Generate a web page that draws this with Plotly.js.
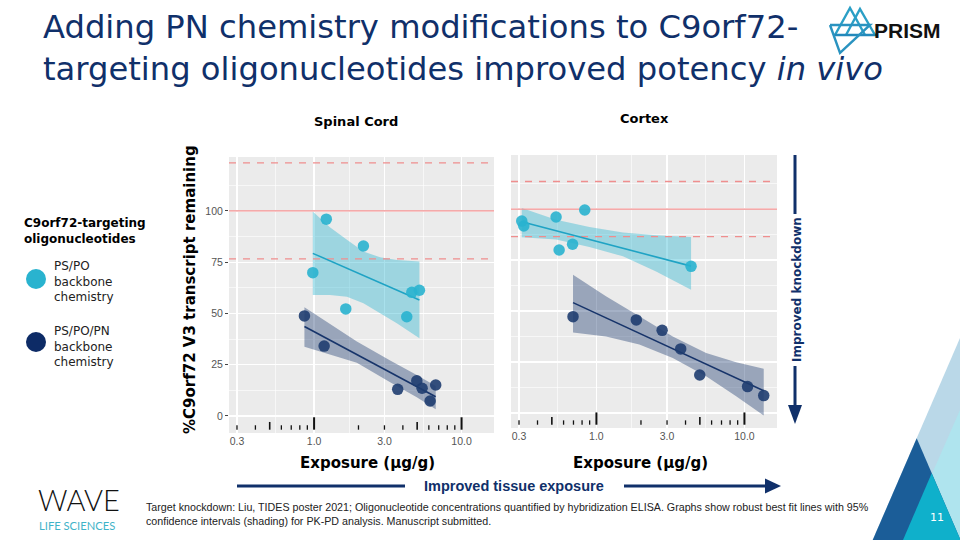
<!DOCTYPE html>
<html>
<head>
<meta charset="utf-8">
<script src="https://cdn.plot.ly/plotly-3.0.1.min.js"></script>
<style>html,body{margin:0;padding:0;background:#fff;}#chart{width:960px;height:540px;}</style>
</head>
<body>
<div id="chart"></div>
<script>
// ---------- DATA ----------
// Spinal cord, PS/PO backbone
const scPoX = [0.98, 1.21, 2.16, 1.64, 4.25, 4.6, 5.18];
const scPoY = [69.9, 96.0, 82.9, 52.2, 48.4, 60.3, 61.3];
const scPoFitX = [0.98, 5.18];
const scPoFitY = [79.3, 56.6];
const scPoBandX  = [0.98, 1.28, 1.67, 2.16, 2.80, 3.64, 5.18];
const scPoBandHi = [99.7, 92.0, 85.9, 80.2, 77.4, 76.1, 75.3];
const scPoBandLo = [59.0, 59.0, 58.2, 55.0, 50.1, 45.2, 37.9];
// Spinal cord, PS/PO/PN backbone
const scPnX = [0.86, 1.17, 3.69, 4.97, 5.4, 6.12, 6.68];
const scPnY = [48.8, 34.1, 13.0, 17.2, 13.5, 7.3, 15.1];
const scPnFitX = [0.86, 6.68];
const scPnFitY = [43.6, 9.4];
const scPnBandX  = [0.86, 1.16, 1.95, 3.28, 4.97, 6.68];
const scPnBandHi = [53.0, 46.8, 36.3, 27.0, 20.0, 14.6];
const scPnBandLo = [33.8, 31.1, 26.0, 16.4, 9.1, 3.3];
// Cortex, PS/PO backbone
const cxPoX = [0.313, 0.323, 0.534, 0.834, 0.56, 0.69, 4.36];
const cxPoY = [94.1, 91.7, 96.1, 99.5, 79.9, 82.7, 71.9];
const cxPoFitX = [0.313, 4.36];
const cxPoFitY = [93.8, 72.0];
const cxPoBandX  = [0.313, 0.534, 0.897, 1.51, 2.53, 4.36];
const cxPoBandHi = [100.5, 94.8, 91.2, 88.5, 87.1, 86.3];
const cxPoBandLo = [86.1, 85.0, 81.4, 76.8, 69.4, 60.4];
// Cortex, PS/PO/PN backbone
const cxPnX = [0.695, 1.86, 2.78, 3.71, 4.99, 10.5, 13.5];
const cxPnY = [47.2, 45.6, 40.5, 31.4, 18.6, 12.9, 8.5];
const cxPnFitX = [0.695, 13.5];
const cxPnFitY = [54.1, 10.9];
const cxPnBandX  = [0.695, 1.16, 1.95, 3.28, 5.51, 8.79, 13.5];
const cxPnBandHi = [67.8, 57.2, 47.4, 37.5, 29.4, 24.8, 21.6];
const cxPnBandLo = [39.5, 37.5, 33.5, 26.9, 18.0, 8.2, -1.3];
// Reference lines (control = 100, dashed = variability limits)
const scRefSolid = [100];
const scRefDashed = [123.4, 76.6];
const cxRefSolid = [100];
const cxRefDashed = [113.5, 86.5];
// Axis ticks
const xTickVals = [0.3, 1, 3, 10];
const xTickText = ['0.3', '1.0', '3.0', '10.0'];
const xMinorVals = [0.5477, 1.732, 5.477];
const yTickVals = [0, 25, 50, 75, 100];
const yTickText = ['0', '25', '50', '75', '100'];
const yMinorVals = [12.5, 37.5, 62.5, 87.5, 112.5];
const logTicksShort = [0.3, 0.4, 0.6, 0.7, 0.8, 0.9, 2, 3, 4, 6, 7, 8, 9];
const logTicksMid = [0.5, 5];
const logTicksLong = [1, 10];

// ---------- STYLE ----------
const W = 960, H = 540;
const X = p => p / W;
const Y = p => 1 - p / H;
const LIGHT = '#29b3cf', DARK = '#1f3d70';
const LIGHT_BAND = 'rgba(41,179,207,0.40)', DARK_BAND = 'rgba(31,61,112,0.40)';
const LIGHT_LINE = '#1fa3c4', DARK_LINE = '#17346a';
const RED = '#ef8e8e';
const NAVY = '#10306a';
const XR = [-0.577, 1.22];
const xEnds = [Math.pow(10, XR[0]), Math.pow(10, XR[1])];

function band(xs, hi, lo, color, xa, ya) {
  return {x: xs.concat(xs.slice().reverse()), y: hi.concat(lo.slice().reverse()),
    xaxis: xa, yaxis: ya, mode: 'lines', fill: 'toself', fillcolor: color,
    line: {width: 0}, hoverinfo: 'skip', showlegend: false};
}
function fit(xs, ys, color, xa, ya) {
  return {x: xs, y: ys, xaxis: xa, yaxis: ya, mode: 'lines', line: {color: color, width: 1.6}, showlegend: false};
}
function pts(xs, ys, color, xa, ya) {
  return {x: xs, y: ys, xaxis: xa, yaxis: ya, mode: 'markers', type: 'scatter',
    marker: {color: color, size: 11.5, opacity: 0.9, line: {width: 0}}, showlegend: false};
}
function refs(solid, dashed, xa, ya) {
  const out = [];
  solid.forEach(v => out.push({x: xEnds, y: [v, v], xaxis: xa, yaxis: ya, mode: 'lines',
    line: {color: RED, width: 1.3}, hoverinfo: 'skip', showlegend: false}));
  dashed.forEach(v => out.push({x: xEnds, y: [v, v], xaxis: xa, yaxis: ya, mode: 'lines',
    line: {color: RED, width: 1.3, dash: '7px,7px'}, hoverinfo: 'skip', showlegend: false}));
  return out;
}

const data = [
  band(scPoBandX, scPoBandHi, scPoBandLo, LIGHT_BAND, 'x', 'y'),
  band(scPnBandX, scPnBandHi, scPnBandLo, DARK_BAND, 'x', 'y'),
  band(cxPoBandX, cxPoBandHi, cxPoBandLo, LIGHT_BAND, 'x2', 'y2'),
  band(cxPnBandX, cxPnBandHi, cxPnBandLo, DARK_BAND, 'x2', 'y2'),
  ...refs(scRefSolid, scRefDashed, 'x', 'y'),
  ...refs(cxRefSolid, cxRefDashed, 'x2', 'y2'),
  fit(scPoFitX, scPoFitY, LIGHT_LINE, 'x', 'y'),
  fit(scPnFitX, scPnFitY, DARK_LINE, 'x', 'y'),
  fit(cxPoFitX, cxPoFitY, LIGHT_LINE, 'x2', 'y2'),
  fit(cxPnFitX, cxPnFitY, DARK_LINE, 'x2', 'y2'),
  pts(scPoX, scPoY, LIGHT, 'x', 'y'),
  pts(scPnX, scPnY, DARK, 'x', 'y'),
  pts(cxPoX, cxPoY, LIGHT, 'x2', 'y2'),
  pts(cxPnX, cxPnY, DARK, 'x2', 'y2')
];

const tickFont = {family: 'Liberation Sans, Arial, sans-serif', size: 10.5, color: '#555'};
function xAxis(domain, anchor) {
  return {type: 'log', domain: domain, anchor: anchor, range: XR, tickmode: 'array',
    tickvals: xTickVals, ticktext: xTickText, ticks: '', showgrid: true, gridcolor: '#fff', gridwidth: 1.2,
    minor: {tickmode: 'array', tickvals: xMinorVals, showgrid: true, gridcolor: '#fff', gridwidth: 0.6, ticks: ''},
    zeroline: false, showline: false, tickfont: tickFont, fixedrange: true};
}
function yAxis(domain, anchor, labels) {
  return {domain: domain, anchor: anchor, tickmode: 'array', tickvals: yTickVals, ticktext: yTickText,
    showticklabels: labels, ticks: labels ? 'outside' : '', ticklen: 3, tickcolor: '#444', tickwidth: 1,
    showgrid: true, gridcolor: '#fff', gridwidth: 1.2,
    minor: {tickmode: 'array', tickvals: yMinorVals, showgrid: true, gridcolor: '#fff', gridwidth: 0.6, ticks: ''},
    zeroline: false, showline: false, tickfont: tickFont, fixedrange: true};
}

const shapes = [];
function logTicks(vals, len, width, xref, yref) {
  vals.forEach(v => shapes.push({type: 'line', xref: xref, yref: yref + ' domain', x0: v, x1: v,
    y0: 0.012, y1: 0.012 + len, line: {color: '#111', width: width}, layer: 'above'}));
}
[['x', 'y'], ['x2', 'y2']].forEach(([xa, ya]) => {
  logTicks(logTicksShort, 0.016, 1.3, xa, ya);
  logTicks(logTicksMid, 0.028, 1.6, xa, ya);
  logTicks(logTicksLong, 0.045, 2, xa, ya);
});

function path(pts, close) {
  return pts.map((p, i) => (i ? 'L' : 'M') + X(p[0]).toFixed(5) + ',' + Y(p[1]).toFixed(5)).join(' ') + (close ? ' Z' : '');
}
function poly(pts, fill) {
  shapes.push({type: 'path', xref: 'paper', yref: 'paper', path: path(pts, true), fillcolor: fill, line: {width: 0}, layer: 'above'});
}
function seg(pts, color, w) {
  shapes.push({type: 'path', xref: 'paper', yref: 'paper', path: path(pts, false), line: {color: color, width: w}, layer: 'above'});
}
// Legend circles
shapes.push({type: 'circle', xref: 'paper', yref: 'paper', x0: X(26), x1: X(46), y0: Y(289), y1: Y(269), fillcolor: LIGHT, line: {width: 0}});
shapes.push({type: 'circle', xref: 'paper', yref: 'paper', x0: X(26), x1: X(46), y0: Y(352), y1: Y(332), fillcolor: '#0d2b66', line: {width: 0}});
// Improved knockdown arrow
seg([[795, 155], [795, 214]], NAVY, 3);
seg([[795, 366], [795, 408]], NAVY, 3);
poly([[788, 405], [802, 405], [795, 424]], NAVY);
// Improved tissue exposure arrow
seg([[237, 486], [405, 486]], NAVY, 3);
seg([[624, 486], [767, 486]], NAVY, 3);
poly([[765, 478.5], [765, 493.5], [781, 486]], NAVY);
// Corner decoration
poly([[960, 338], [872.7, 540], [960, 540]], '#bad8e8');
poly([[960, 410], [903, 540], [960, 540]], '#afe4ee');
poly([[916.7, 438.3], [872.7, 540], [960.5, 540]], '#1b5d98');
poly([[931.7, 473.3], [903, 540], [960.5, 540]], '#0fb0cb');
// PRISM logo mark
seg([[835, 35], [850, 8], [865, 35]], '#2b9fc6', 2.4);
seg([[846, 35], [860, 9], [875, 35]], '#2b9fc6', 2.4);
seg([[833, 35], [876, 35]], '#2389bb', 2.4);
seg([[830, 25], [870, 25], [840, 53], [830, 25]], '#2a93c0', 2.4);

const bold = 'DejaVu Sans, Verdana, sans-serif';
const ann = (text, x, y, opts) => Object.assign({text: text, x: X(x), y: Y(y), xref: 'paper', yref: 'paper',
  showarrow: false, xanchor: 'center', yanchor: 'middle'}, opts || {});
const annotations = [
  ann('<b>Spinal Cord</b>', 356, 121, {font: {family: bold, size: 13, color: '#000'}}),
  ann('<b>Cortex</b>', 644, 118, {font: {family: bold, size: 13, color: '#000'}}),
  ann('<b>Exposure (µg/g)</b>', 367, 463, {font: {family: bold, size: 15, color: '#000'}}),
  ann('<b>Exposure (µg/g)</b>', 640, 463, {font: {family: bold, size: 15, color: '#000'}}),
  ann('<b>%C9orf72 V3 transcript remaining</b>', 190, 290, {textangle: -90, font: {family: bold, size: 15, color: '#000'}}),
  ann('<b>Improved knockdown</b>', 797, 290, {textangle: -90, font: {family: bold, size: 12, color: NAVY}}),
  ann('<b>Improved tissue exposure</b>', 514, 486, {font: {family: 'Liberation Sans Narrow, Arial Narrow, Liberation Sans, sans-serif', size: 14.5, color: NAVY}}),
  ann('<b>C9orf72-targeting</b><br><b>oligonucleotides</b>', 22, 231, {xanchor: 'left', align: 'left', font: {family: bold, size: 12, color: '#000'}}),
  ann('PS/PO<br>backbone<br>chemistry', 52, 281, {xanchor: 'left', align: 'left', font: {family: bold, size: 12, color: '#222'}}),
  ann('PS/PO/PN<br>backbone<br>chemistry', 52, 346, {xanchor: 'left', align: 'left', font: {family: bold, size: 12, color: '#222'}}),
  ann('Target knockdown: Liu, TIDES poster 2021; Oligonucleotide concentrations quantified by hybridization ELISA. Graphs show robust best fit lines with 95%<br>confidence intervals (shading) for PK-PD analysis. Manuscript submitted.',
    144, 514, {xanchor: 'left', align: 'left', font: {family: 'Liberation Sans Narrow, Arial Narrow, Liberation Sans, sans-serif', size: 10.7, color: '#222'}}),
  ann('WAVE', 37, 499, {xanchor: 'left', borderpad: 0, font: {family: 'Lato, sans-serif', size: 29, color: '#111', weight: 300}}),
  ann('LIFE SCIENCES', 38, 525, {xanchor: 'left', borderpad: 0, font: {family: 'Lato, sans-serif', size: 11.2, color: '#3fb3c8'}}),
  ann('<b>PRISM</b>', 872, 31, {xanchor: 'left', font: {family: 'Liberation Sans, Arial, sans-serif', size: 21, color: '#111'}}),
  ann('11', 937, 517, {font: {family: bold, size: 11, color: '#fff'}})
];

const layout = {
  width: W, height: H, margin: {l: 0, r: 0, t: 0, b: 0},
  paper_bgcolor: '#fff', plot_bgcolor: '#ebebeb', showlegend: false,
  title: {text: 'Adding PN chemistry modifications to C9orf72-<br>targeting oligonucleotides improved potency <i>in vivo</i>',
    x: X(43), xanchor: 'left', xref: 'paper', y: Y(38), yanchor: 'top', yref: 'paper',
    font: {family: 'DejaVu Sans, Verdana, sans-serif', size: 32.2, color: NAVY}},
  xaxis: xAxis([X(229), X(494)], 'y'),
  yaxis: Object.assign(yAxis([Y(433), Y(157)], 'x', true), {range: [-8.3, 126.3]}),
  xaxis2: xAxis([X(511), X(777)], 'y2'),
  yaxis2: Object.assign(yAxis([Y(428), Y(155)], 'x2', false), {range: [-7.4, 126.5]}),
  shapes: shapes,
  annotations: annotations
};

Plotly.newPlot('chart', data, layout, {displayModeBar: false, staticPlot: true});
</script>
</body>
</html>
